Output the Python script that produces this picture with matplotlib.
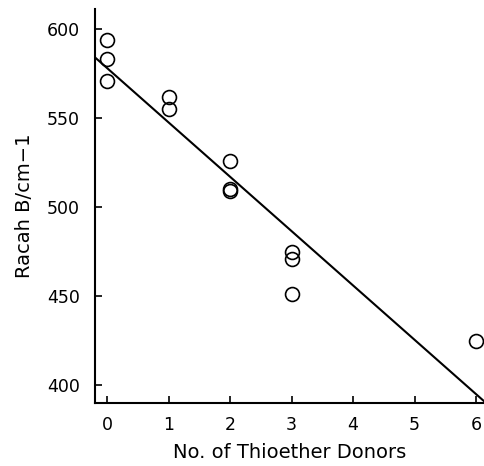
import matplotlib
matplotlib.use("Agg")
import matplotlib.pyplot as plt
import numpy as np

# Data
donors = [0, 0, 0, 1, 1, 2, 2, 2, 3, 3, 3, 6]
racah_b = [594, 583, 571, 562, 555, 526, 510, 509, 475, 471, 451, 425]
fit_intercept = 578.0
fit_slope = -30.5
x_ticks = [0, 1, 2, 3, 4, 5, 6]
y_ticks = [400, 450, 500, 550, 600]

plt.rcParams['font.family'] = ['DejaVu Sans']

fig = plt.figure(figsize=(4.84, 4.66), dpi=100)
ax = fig.add_axes([95/484, 63/466, (484-95)/484, (456.5-63)/466])

xl = np.array([-0.2, 6.2])
ax.plot(xl, fit_intercept + fit_slope*xl, color='black', lw=1.5, clip_on=True)
ax.plot(donors, racah_b, linestyle='none', marker='o', ms=10, mfc='none',
        mec='black', mew=1.2, clip_on=False)

ax.set_xlim(-0.2, 6.13)
ax.set_ylim(390, 611)
ax.set_xticks(x_ticks)
ax.set_yticks(y_ticks)
for s in ['top', 'right']:
    ax.spines[s].set_visible(False)
for s in ['left', 'bottom']:
    ax.spines[s].set_linewidth(1.5)
ax.tick_params(direction='in', length=5, width=1.2, labelsize=12.5)
ax.tick_params(axis='y', pad=11)
ax.tick_params(axis='x', pad=9)
ax.set_xlabel('No. of Thioether Donors', fontsize=14, labelpad=7)
ax.set_ylabel('Racah B/cm\u22121', fontsize=14, labelpad=9)

fig.savefig('out.png', dpi=100)
